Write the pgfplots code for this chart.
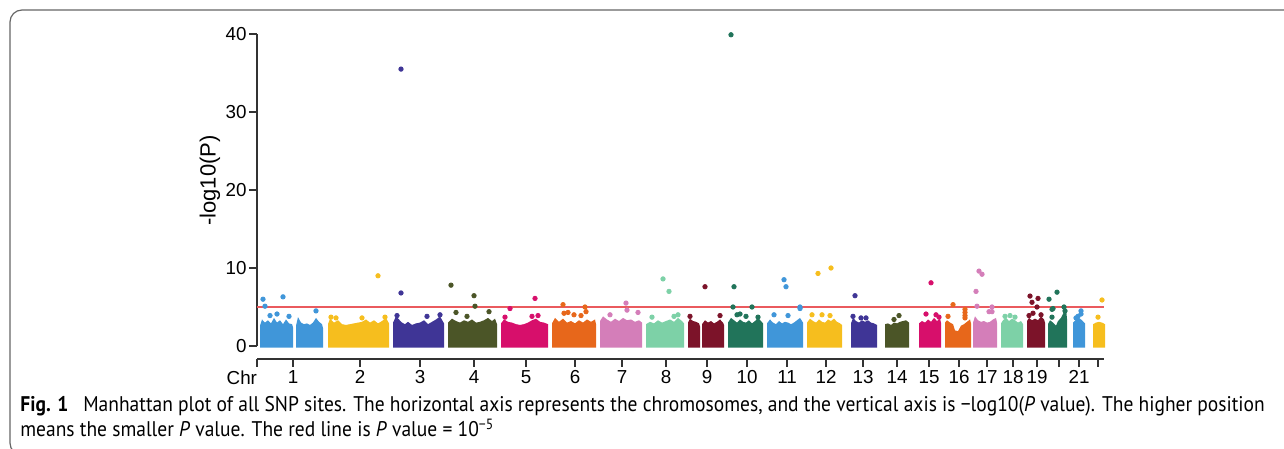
\documentclass[border=0pt]{standalone}
\usepackage{pgfplots}
\pgfplotsset{compat=1.18}
\usepackage{fontspec}
\setmainfont{Liberation Sans}
\newfontfamily\capfont[FakeStretch=0.92]{PT Sans}

% ten colours, cycled over the chromosomes
\definecolor{cA}{HTML}{4096D9}
\definecolor{cB}{HTML}{F6BE1E}
\definecolor{cC}{HTML}{3F3596}
\definecolor{cD}{HTML}{4B5527}
\definecolor{cE}{HTML}{D70F6B}
\definecolor{cF}{HTML}{E7671B}
\definecolor{cG}{HTML}{D47EB9}
\definecolor{cH}{HTML}{7DD1A7}
\definecolor{cI}{HTML}{7C1329}
\definecolor{cJ}{HTML}{21745A}
\definecolor{redline}{HTML}{EA5A5E}
\definecolor{axisgray}{HTML}{333333}

\pgfplotsset{
  blk/.style={draw=none, fill=#1},
  pts/.style={only marks, mark=*, mark size=1.1pt, color=#1},
}

\begin{document}
\begin{tikzpicture}[x=0.5pt,y=0.5pt]
\useasboundingbox (0,0) rectangle (1284,449);
\begin{scope}
  \clip (0,0) rectangle (1284,449);
  \draw[gray!80!black, line width=0.6pt, rounded corners=6pt] (10,-6) rectangle (1310,439);
\end{scope}

\begin{axis}[
    at={(128.5pt,45pt)}, anchor=south west,
    scale only axis, width=423.5pt, height=162.5pt,
    xmin=257, xmax=1104, ymin=-1.6667, ymax=40,
    clip=false,
    axis x line*=bottom, axis y line*=left,
    axis line style={draw=none},
    tick align=outside, major tick length=4pt,
    every tick/.style={axisgray, line width=0.75pt},
    /pgf/number format/assume math mode=true,
    ytick={0,10,20,30,40},
    xtick={257,293,360,420,474,526,575,622,666,707,747,787,826,863,897,929,959,987,1013,1037,1059,1079,1098},
    xticklabels={\llap{Chr},1,2,3,4,5,6,7,8,9,10,11,12,13,14,15,16,17,18,19,,21,},
    tick label style={font=\fontsize{9.4}{11}\selectfont},
    yticklabel style={inner xsep=1pt},
    xticklabel style={inner ysep=1.5pt},
    ylabel={-log10(P)},
    ylabel style={at={(axis cs:210,21.2)}, anchor=center, font=\fontsize{11}{13}\selectfont},
]
\draw[axisgray, line width=0.75pt] (axis cs:257,0) -- (axis cs:257,40);
\draw[axisgray, line width=0.75pt] (axis cs:257,-1.6667) -- (axis cs:1104,-1.6667);

% dense blocks: upper envelope of each chromosome
\addplot[blk=cA] coordinates {(260,-0.2) (260,2.6) (262,3.4) (265,3.0) (268,3.3) (271,2.9) (274,3.6) (277,3.0) (280,3.3) (283,2.8) (286,3.4) (289,2.9) (292,2.8) (293,2.4) (293,-0.2)} -- cycle;
\addplot[blk=cA] coordinates {(296,-0.2) (296,2.6) (298,3.7) (301,3.0) (304,2.8) (307,2.9) (310,2.7) (313,3.0) (316,3.6) (319,3.1) (322,2.8) (323,2.3) (323,-0.2)} -- cycle;
\addplot[blk=cB] coordinates {(328,-0.2) (328,2.8) (330,3.5) (334,3.0) (338,3.3) (342,2.8) (346,2.7) (350,2.8) (354,2.9) (358,3.0) (362,3.1) (366,3.4) (370,3.0) (374,3.3) (378,2.9) (382,3.2) (386,3.6) (389,2.9) (389,-0.2)} -- cycle;
\addplot[blk=cC] coordinates {(393,-0.2) (393,3.0) (396,3.8) (399,3.4) (402,3.0) (405,2.8) (408,3.1) (412,2.7) (416,2.9) (420,3.0) (424,3.3) (428,2.8) (432,3.1) (436,3.4) (440,3.8) (444,2.9) (444,-0.2)} -- cycle;
\addplot[blk=cD] coordinates {(448,-0.2) (448,3.0) (452,3.5) (456,3.2) (460,3.0) (464,3.3) (468,3.1) (472,3.4) (476,3.0) (480,3.1) (484,3.3) (488,3.6) (492,3.2) (495,3.5) (497,2.8) (497,-0.2)} -- cycle;
\addplot[blk=cE] coordinates {(501,-0.2) (501,2.9) (504,3.4) (508,3.1) (512,3.0) (516,2.8) (520,2.7) (524,2.8) (528,3.0) (532,3.3) (536,3.5) (540,3.1) (544,3.0) (548,2.8) (548,-0.2)} -- cycle;
\addplot[blk=cF] coordinates {(552,-0.2) (552,2.9) (555,3.6) (559,3.1) (563,3.5) (567,3.0) (571,3.2) (575,2.9) (579,3.3) (583,3.0) (587,3.4) (591,3.1) (595,3.4) (596,2.8) (596,-0.2)} -- cycle;
\addplot[blk=cG] coordinates {(600,-0.2) (600,3.2) (603,3.8) (607,3.4) (611,3.1) (615,3.5) (619,3.2) (623,3.6) (627,3.3) (631,3.4) (635,3.1) (639,3.3) (642,3.0) (642,-0.2)} -- cycle;
\addplot[blk=cH] coordinates {(646,-0.2) (646,2.8) (650,3.1) (654,2.9) (658,3.3) (662,3.0) (666,3.2) (670,3.4) (674,3.1) (678,3.6) (682,3.2) (684,2.9) (684,-0.2)} -- cycle;
\addplot[blk=cI] coordinates {(688,-0.2) (688,3.0) (690,3.5) (693,3.2) (696,3.1) (699,2.9) (700,2.5) (700,-0.2)} -- cycle;
\addplot[blk=cI] coordinates {(702,-0.2) (702,2.8) (705,3.3) (708,3.0) (711,3.2) (714,2.9) (717,3.1) (720,3.4) (723,3.0) (724,2.7) (724,-0.2)} -- cycle;
\addplot[blk=cJ] coordinates {(728,-0.2) (728,3.0) (731,3.6) (734,3.3) (737,3.0) (740,3.4) (743,3.1) (746,3.0) (749,3.3) (752,2.9) (755,3.2) (758,3.6) (761,3.2) (763,2.9) (763,-0.2)} -- cycle;
\addplot[blk=cA] coordinates {(767,-0.2) (767,2.9) (770,3.4) (773,3.0) (776,2.8) (779,3.2) (782,2.9) (785,3.1) (788,3.0) (791,2.8) (794,3.0) (797,3.3) (800,3.6) (803,3.0) (803,-0.2)} -- cycle;
\addplot[blk=cB] coordinates {(807,-0.2) (807,3.0) (810,3.5) (813,3.2) (816,3.0) (819,3.4) (822,3.1) (825,3.0) (828,3.4) (831,3.2) (834,3.5) (837,3.1) (840,2.9) (842,2.7) (842,-0.2)} -- cycle;
\addplot[blk=cC] coordinates {(851,-0.2) (851,2.9) (853,3.6) (856,3.2) (859,3.0) (862,3.3) (865,3.1) (868,3.3) (871,3.0) (874,2.9) (877,2.7) (877,-0.2)} -- cycle;
\addplot[blk=cD] coordinates {(885,-0.2) (885,2.8) (888,2.9) (891,2.7) (894,3.0) (897,2.9) (900,3.1) (903,3.2) (906,3.3) (909,3.0) (909,-0.2)} -- cycle;
\addplot[blk=cE] coordinates {(919,-0.2) (919,2.9) (922,3.2) (925,3.0) (928,3.4) (931,3.1) (934,3.6) (937,3.2) (940,3.5) (941,3.0) (941,-0.2)} -- cycle;
\addplot[blk=cF] coordinates {(945,-0.2) (945,3.0) (947,3.3) (950,3.0) (953,2.8) (955,2.0) (958,1.9) (961,2.6) (964,2.8) (967,3.1) (970,3.4) (971,2.9) (971,-0.2)} -- cycle;
\addplot[blk=cG] coordinates {(973,-0.2) (973,3.0) (975,3.8) (978,3.3) (981,3.1) (984,3.2) (987,3.0) (990,3.1) (993,3.4) (996,3.6) (997,3.0) (997,-0.2)} -- cycle;
\addplot[blk=cH] coordinates {(1001,-0.2) (1001,2.9) (1003,3.3) (1006,3.6) (1009,3.2) (1012,3.5) (1015,3.3) (1018,3.0) (1021,3.2) (1023,2.8) (1023,-0.2)} -- cycle;
\addplot[blk=cI] coordinates {(1027,-0.2) (1027,3.2) (1029,3.6) (1032,3.3) (1035,3.5) (1038,3.3) (1041,3.8) (1044,3.4) (1045,3.0) (1045,-0.2)} -- cycle;
\addplot[blk=cJ] coordinates {(1048,-0.2) (1048,2.8) (1050,3.3) (1053,3.0) (1056,2.6) (1058,3.2) (1061,3.6) (1064,4.4) (1066,4.8) (1067,3.5) (1067,-0.2)} -- cycle;
\addplot[blk=cA] coordinates {(1073,-0.2) (1073,3.0) (1076,3.4) (1079,3.6) (1082,3.3) (1085,2.9) (1085,-0.2)} -- cycle;
\addplot[blk=cB] coordinates {(1093,-0.2) (1093,2.8) (1096,3.0) (1099,3.1) (1102,3.0) (1105,2.8) (1105,-0.2)} -- cycle;

% significance threshold, P = 1e-5
\addplot[redline, line width=0.55pt] coordinates {(257,5) (1104,5)};

% SNPs standing out above the blocks
\addplot[pts=cA] coordinates {(263,6.0) (265,5.1) (283,6.3) (277,4.1) (316,4.5) (270,3.9) (289,3.8)};
\addplot[pts=cB] coordinates {(378,9.0) (331,3.7) (336,3.6) (362,3.6) (385,3.7)};
\addplot[pts=cC] coordinates {(401,35.5) (401,6.8) (427,3.8) (440,4.0) (397,3.9)};
\addplot[pts=cD] coordinates {(451,7.8) (474,6.45) (475,5.1) (456,4.3) (489,4.4) (467,3.8)};
\addplot[pts=cE] coordinates {(510,4.8) (535,6.1) (505,3.7) (532,3.8) (538,3.9)};
\addplot[pts=cF] coordinates {(563,5.3) (585,5.0) (586,4.4) (564,4.2) (568,4.3) (574,4.0) (581,3.9)};
\addplot[pts=cG] coordinates {(626,5.5) (627,4.6) (638,4.3) (610,4.0)};
\addplot[pts=cH] coordinates {(663,8.6) (669,7.0) (678,4.0) (674,3.8) (652,3.7)};
\addplot[pts=cI] coordinates {(705,7.6) (720,3.9) (690,3.8)};
\addplot[pts=cJ] coordinates {(731,39.9) (734,7.6) (733,5.0) (752,5.0) (737,4.0) (740,4.1) (746,3.8) (758,3.7)};
\addplot[pts=cA] coordinates {(784,8.5) (786,7.6) (800,5.0) (800,4.8) (774,4.0) (788,3.9)};
\addplot[pts=cB] coordinates {(818,9.3) (831,10.0) (812,4.0) (822,4.0) (830,3.9)};
\addplot[pts=cC] coordinates {(855,6.45) (853,3.8) (861,3.6) (866,3.6)};
\addplot[pts=cD] coordinates {(899,3.9) (894,3.4)};
\addplot[pts=cE] coordinates {(931,8.1) (926,4.1) (936,4.0) (939,3.7)};
\addplot[pts=cF] coordinates {(953,5.3) (965,4.7) (965,4.3) (965,3.9) (965,3.6) (948,3.8)};
\addplot[pts=cG] coordinates {(979,9.6) (982,9.2) (976,7.0) (977,5.1) (992,5.0) (992,4.4) (989,4.4)};
\addplot[pts=cH] coordinates {(1005,3.8) (1010,3.9) (1015,3.7)};
\addplot[pts=cI] coordinates {(1030,6.4) (1032,5.6) (1038,6.1) (1037,5.0) (1033,4.2) (1041,4.0) (1029,3.9)};
\addplot[pts=cJ] coordinates {(1049,6.0) (1057,6.9) (1052,4.7) (1053,4.8) (1064,5.0) (1065,4.5) (1052,3.7)};
\addplot[pts=cA] coordinates {(1081,4.5) (1081,4.1) (1078,3.8) (1076,3.6)};
\addplot[pts=cB] coordinates {(1102,5.9) (1098,3.7)};
\end{axis}

\node[anchor=base west, inner sep=0pt, font=\capfont\fontsize{10.6}{12}\selectfont] at (20,37)
  {\textbf{Fig. 1}\hspace{0.7em}Manhattan plot of all SNP sites. The horizontal axis represents the chromosomes, and the vertical axis is −log10(\textit{P} value). The higher position};
\node[anchor=base west, inner sep=0pt, font=\capfont\fontsize{10.6}{12}\selectfont] at (20,12)
  {means the smaller \textit{P} value. The red line is \textit{P} value = 10\textsuperscript{−5}};
\end{tikzpicture}
\end{document}
